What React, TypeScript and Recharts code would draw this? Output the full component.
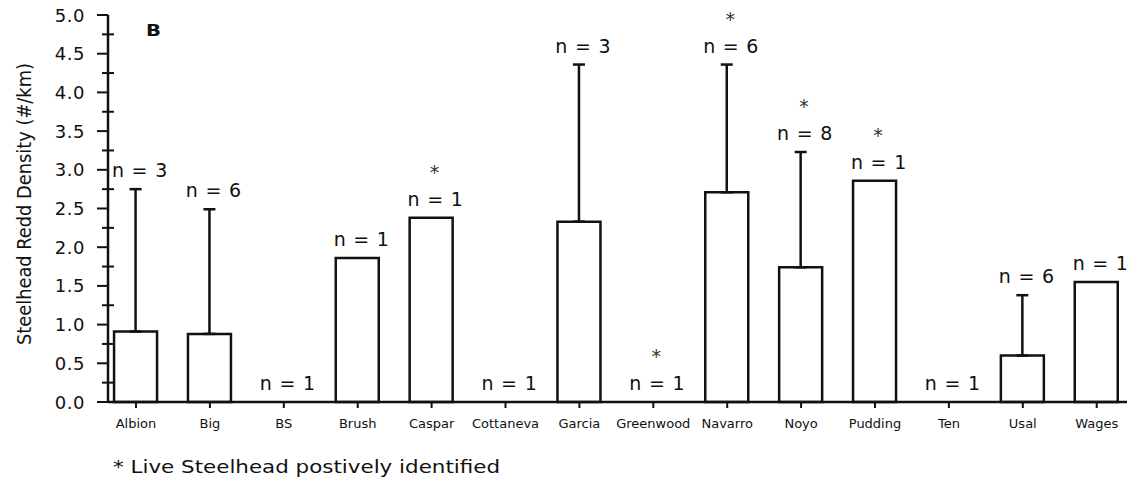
import React from 'react';
import { ComposedChart, Bar, ErrorBar, Scatter, XAxis, YAxis } from 'recharts';

// Steelhead redd density by stream (mean, with +1 SD where several surveys exist)
const rivers = ['Albion', 'Big', 'BS', 'Brush', 'Caspar', 'Cottaneva', 'Garcia', 'Greenwood', 'Navarro', 'Noyo', 'Pudding', 'Ten', 'Usal', 'Wages'];
const reddDensity = [0.91, 0.88, 0, 1.86, 2.38, 0, 2.33, 0, 2.71, 1.74, 2.86, 0, 0.6, 1.55];
const reddSd = [1.84, 1.61, 0, 0, 0, 0, 2.03, 0, 1.65, 1.49, 0, 0, 0.78, 0];
const sampleSize = [3, 6, 1, 1, 1, 1, 3, 1, 6, 8, 1, 1, 6, 1];
const liveSteelhead = [false, false, false, false, true, false, false, true, true, true, true, false, false, false];

const majorTicks = [0, 0.5, 1, 1.5, 2, 2.5, 3, 3.5, 4, 4.5, 5];
const minorTicks = [0.25, 0.75, 1.25, 1.75, 2.25, 2.75, 3.25, 3.75, 4.25, 4.75];

const rows = rivers.map((name, i) => ({
  idx: i,
  name,
  density: reddDensity[i],
  err: reddSd[i] > 0 ? [0, reddSd[i]] : null,
  top: reddDensity[i] + reddSd[i],
  n: sampleSize[i],
  live: liveSteelhead[i],
}));

const FONT = '"DejaVu Sans", Verdana, sans-serif';
const INK = '#111';

const YTick = (props: any) => {
  const { x, y, payload } = props;
  const v = payload.value as number;
  const major = majorTicks.includes(v);
  if (!major) {
    return <line x1={x - 6} x2={x + 6} y1={y} y2={y} stroke={INK} strokeWidth={2} />;
  }
  return (
    <g>
      <line x1={x - 11} x2={x} y1={y} y2={y} stroke={INK} strokeWidth={2} />
      <text x={x - 23} y={y} textAnchor="end" dominantBaseline="central" fontFamily={FONT} fontSize={18} letterSpacing={0.5} fill={INK}>
        {v.toFixed(1)}
      </text>
    </g>
  );
};

// Sample size and live-fish marker drawn above each bar / whisker
const CountMark = (props: any) => {
  const { cx, cy, payload } = props;
  if (cx == null || cy == null) return null;
  const base = cy - 12;
  return (
    <g>
      <text x={cx + 4} y={base} textAnchor="middle" fontFamily={FONT} fontSize={19} letterSpacing={0.8} fill={INK}>
        {`n = ${payload.n}`}
      </text>
      {payload.live && (
        <text x={cx + 3} y={base - 27} textAnchor="middle" fontFamily={FONT} fontSize={19} fill="#333">
          *
        </text>
      )}
    </g>
  );
};

const YTitle = () => {
  const cy = 204;
  return (
    <text
      x={24}
      y={cy}
      transform={`rotate(-90 24 ${cy})`}
      textAnchor="middle"
      dominantBaseline="central"
      fontFamily='"DejaVu Sans Condensed", "Liberation Sans Narrow", "Liberation Sans", sans-serif'
      fontSize={19}
      fill={INK}
      textLength={282}
      lengthAdjust="spacingAndGlyphs"
    >
      Steelhead Redd Density (#/km)
    </text>
  );
};

export default function App() {
  return (
    <div style={{ position: 'absolute', left: 0, top: 0, width: 1133, height: 479, background: '#fff' }}>
      <ComposedChart
        width={1133}
        height={479}
        data={rows}
        margin={{ top: 15, right: 6, bottom: 47, left: 48 }}
        style={{ overflow: 'visible' }}
      >
        <XAxis
          type="number"
          dataKey="idx"
          domain={[-0.379, 13.41]}
          allowDataOverflow
          ticks={rivers.map((_, i) => i)}
          interval={0}
          tickFormatter={(i: number) => rivers[i]}
          tick={{ fontFamily: FONT, fontSize: 13, fill: INK }}
          tickSize={6}
          tickMargin={11}
          height={30}
          axisLine={{ stroke: INK, strokeWidth: 2.5 }}
          tickLine={{ stroke: INK, strokeWidth: 2 }}
        />
        <YAxis
          type="number"
          domain={[0, 5]}
          ticks={[...majorTicks, ...minorTicks].sort((a, b) => a - b)}
          interval={0}
          width={60}
          tickSize={0}
          tickMargin={0}
          tickLine={false}
          tick={<YTick />}
          axisLine={{ stroke: INK, strokeWidth: 2.5 }}
          label={<YTitle />}
        />
        <Bar dataKey="density" barSize={43} fill="#fff" stroke={INK} strokeWidth={2.5} isAnimationActive={false}>
          <ErrorBar dataKey="err" width={6} stroke={INK} strokeWidth={2.5} direction="y" />
        </Bar>
        <Scatter dataKey="top" shape={<CountMark />} isAnimationActive={false} />
      </ComposedChart>
      <svg width={1133} height={479} style={{ position: 'absolute', left: 0, top: 0, pointerEvents: 'none' }}>
        <text x={146} y={36} fontFamily={FONT} fontWeight="bold" fontSize={15} textLength={15} lengthAdjust="spacingAndGlyphs" fill={INK}>B</text>
        <text x={113} y={473} fontFamily={FONT} fontSize={18} textLength={387} lengthAdjust="spacingAndGlyphs" fill={INK}>* Live Steelhead postively identified</text>
      </svg>
    </div>
  );
}
